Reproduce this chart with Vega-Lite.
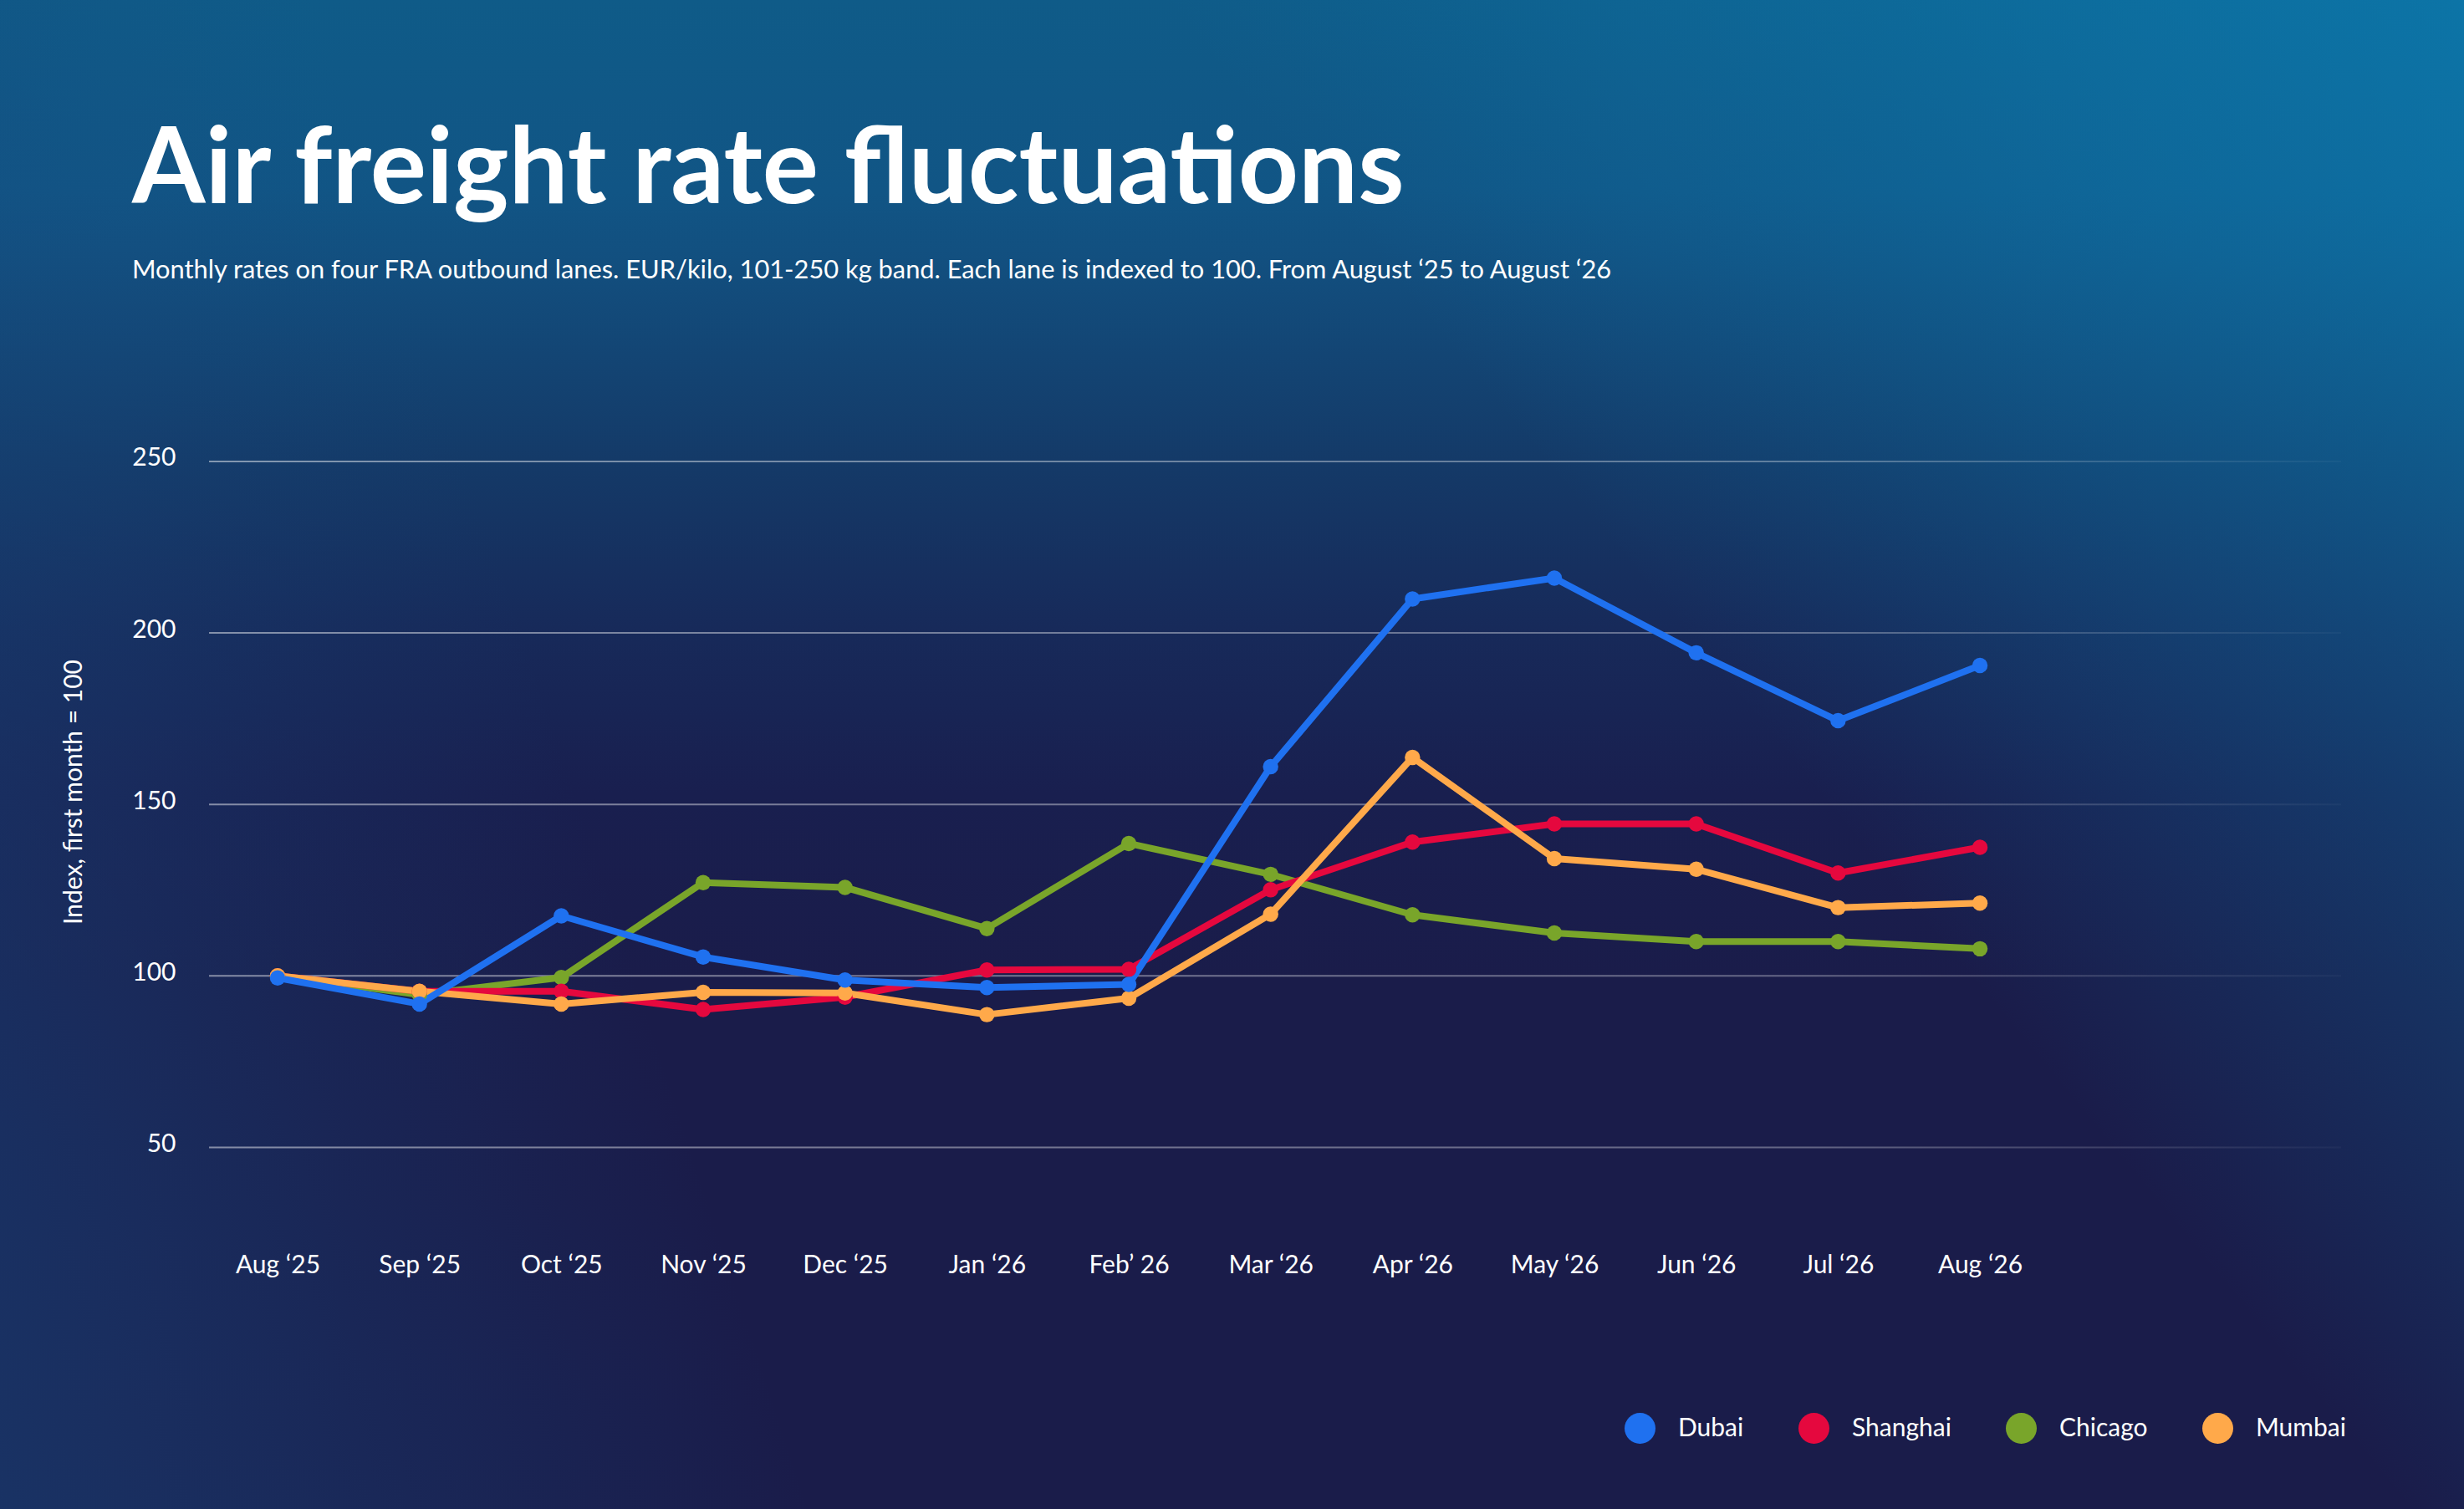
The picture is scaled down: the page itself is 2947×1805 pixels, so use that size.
{
  "$schema": "https://vega.github.io/schema/vega-lite/v6.json",
  "width": 2947,
  "height": 1805,
  "autosize": {"type": "none"},
  "padding": 0,
  "background": "#1a1c4a",
  "view": {
    "stroke": null,
    "fill": {
      "gradient": "linear",
      "x1": 0.5, "y1": 0, "x2": 0.5, "y2": 1,
      "stops": [
        {"offset": 0, "color": "#0f5b88"},
        {"offset": 0.127, "color": "#115585"},
        {"offset": 0.166, "color": "#125080"},
        {"offset": 0.305, "color": "#143a68"},
        {"offset": 0.415, "color": "#172a5a"},
        {"offset": 0.526, "color": "#191f4f"},
        {"offset": 0.65, "color": "#1a1c4a"},
        {"offset": 1, "color": "#1a1c4a"}
      ]
    }
  },
  "title": {
    "text": "Air freight rate fluctuations",
    "subtitle": "Monthly rates on four FRA outbound lanes. EUR/kilo, 101-250 kg band. Each lane is indexed to 100. From August ‘25 to August ‘26",
    "anchor": "start",
    "frame": "group",
    "orient": "top",
    "offset": -354.3,
    "dx": 158,
    "font": "Lato",
    "fontSize": 126,
    "fontWeight": "bold",
    "color": "#ffffff",
    "subtitleFont": "Lato",
    "subtitleFontSize": 30.8,
    "subtitleColor": "#ffffff",
    "subtitlePadding": 40
  },
  "config": {
    "font": "Lato",
    "axis": {
      "domain": false,
      "ticks": false,
      "grid": false,
      "labelPadding": 0,
      "labelFontSize": 30,
      "labelColor": "#ffffff",
      "titleFontSize": 30,
      "titleFontWeight": "normal",
      "titleColor": "#ffffff"
    },
    "axisX": {"offset": -307, "labelFlush": false, "labelOverlap": false},
    "axisY": {
      "offset": -210,
      "labelOffset": -4,
      "titleX": -122,
      "titleY": 947,
      "titleAlign": "center",
      "titleBaseline": "middle",
      "titleAngle": -90
    }
  },
  "datasets": {
    "grid": [
      {"v": 50}, {"v": 100}, {"v": 150}, {"v": 200}, {"v": 250}
    ],
    "rates": [
      {"lane": "Chicago", "i": 0, "v": 100},
      {"lane": "Chicago", "i": 1, "v": 94.5},
      {"lane": "Chicago", "i": 2, "v": 99.5},
      {"lane": "Chicago", "i": 3, "v": 127.2},
      {"lane": "Chicago", "i": 4, "v": 125.8},
      {"lane": "Chicago", "i": 5, "v": 113.8},
      {"lane": "Chicago", "i": 6, "v": 138.6},
      {"lane": "Chicago", "i": 7, "v": 129.6},
      {"lane": "Chicago", "i": 8, "v": 117.8},
      {"lane": "Chicago", "i": 9, "v": 112.5},
      {"lane": "Chicago", "i": 10, "v": 110},
      {"lane": "Chicago", "i": 11, "v": 110},
      {"lane": "Chicago", "i": 12, "v": 107.9},
      {"lane": "Shanghai", "i": 0, "v": 100},
      {"lane": "Shanghai", "i": 1, "v": 95.5},
      {"lane": "Shanghai", "i": 2, "v": 95.5},
      {"lane": "Shanghai", "i": 3, "v": 90.2},
      {"lane": "Shanghai", "i": 4, "v": 93.8},
      {"lane": "Shanghai", "i": 5, "v": 101.7},
      {"lane": "Shanghai", "i": 6, "v": 101.9},
      {"lane": "Shanghai", "i": 7, "v": 125.1},
      {"lane": "Shanghai", "i": 8, "v": 139},
      {"lane": "Shanghai", "i": 9, "v": 144.3},
      {"lane": "Shanghai", "i": 10, "v": 144.3},
      {"lane": "Shanghai", "i": 11, "v": 130},
      {"lane": "Shanghai", "i": 12, "v": 137.5},
      {"lane": "Mumbai", "i": 0, "v": 100},
      {"lane": "Mumbai", "i": 1, "v": 95.5},
      {"lane": "Mumbai", "i": 2, "v": 91.8},
      {"lane": "Mumbai", "i": 3, "v": 95.2},
      {"lane": "Mumbai", "i": 4, "v": 95},
      {"lane": "Mumbai", "i": 5, "v": 88.7},
      {"lane": "Mumbai", "i": 6, "v": 93.5},
      {"lane": "Mumbai", "i": 7, "v": 118},
      {"lane": "Mumbai", "i": 8, "v": 163.7},
      {"lane": "Mumbai", "i": 9, "v": 134.2},
      {"lane": "Mumbai", "i": 10, "v": 131.1},
      {"lane": "Mumbai", "i": 11, "v": 119.9},
      {"lane": "Mumbai", "i": 12, "v": 121.2},
      {"lane": "Dubai", "i": 0, "v": 99.4},
      {"lane": "Dubai", "i": 1, "v": 91.8},
      {"lane": "Dubai", "i": 2, "v": 117.5},
      {"lane": "Dubai", "i": 3, "v": 105.5},
      {"lane": "Dubai", "i": 4, "v": 98.8},
      {"lane": "Dubai", "i": 5, "v": 96.6},
      {"lane": "Dubai", "i": 6, "v": 97.5},
      {"lane": "Dubai", "i": 7, "v": 161},
      {"lane": "Dubai", "i": 8, "v": 209.9},
      {"lane": "Dubai", "i": 9, "v": 216},
      {"lane": "Dubai", "i": 10, "v": 194.2},
      {"lane": "Dubai", "i": 11, "v": 174.4},
      {"lane": "Dubai", "i": 12, "v": 190.5}
    ]
  },
  "layer": [
    {
      "data": {"values": [{}]},
      "mark": {
        "type": "rect",
        "stroke": null,
        "fill": {
          "gradient": "linear",
          "x1": 0.3205, "y1": 0.936, "x2": 0, "y2": 1,
          "stops": [
            {"offset": 0, "color": "rgba(24,74,128,0)"},
            {"offset": 1, "color": "rgba(24,74,128,0.5)"}
          ]
        }
      },
      "encoding": {
        "x": {
          "datum": -2.1,
          "type": "quantitative",
          "scale": {"domain": [-1.9567, 15.4123], "nice": false, "zero": false},
          "axis": {
            "values": [0, 1, 2, 3, 4, 5, 6, 7, 8, 9, 10, 11, 12],
            "labelExpr": "['Aug ‘25','Sep ‘25','Oct ‘25','Nov ‘25','Dec ‘25','Jan ‘26','Feb’ 26','Mar ‘26','Apr ‘26','May ‘26','Jun ‘26','Jul ‘26','Aug ‘26'][datum.value]",
            "title": null,
            "zindex": 1
          }
        },
        "x2": {"datum": 15.55},
        "y": {
          "datum": 388,
          "type": "quantitative",
          "scale": {"domain": [-54.24, 383.33], "nice": false, "zero": false},
          "axis": {"values": [50, 100, 150, 200, 250], "title": "Index, first month = 100", "zindex": 1}
        },
        "y2": {"datum": -58}
      }
    },
    {
      "data": {"values": [{}]},
      "mark": {
        "type": "rect",
        "stroke": null,
        "fill": {
          "gradient": "linear",
          "x1": 0.576, "y1": 0.214, "x2": 1, "y2": 0,
          "stops": [
            {"offset": 0, "color": "rgba(10,134,188,0)"},
            {"offset": 1, "color": "rgba(10,134,188,0.6)"}
          ]
        }
      },
      "encoding": {
        "x": {
          "datum": -2.1,
          "type": "quantitative",
          "scale": {"domain": [-1.9567, 15.4123], "nice": false, "zero": false},
          "axis": {
            "values": [0, 1, 2, 3, 4, 5, 6, 7, 8, 9, 10, 11, 12],
            "labelExpr": "['Aug ‘25','Sep ‘25','Oct ‘25','Nov ‘25','Dec ‘25','Jan ‘26','Feb’ 26','Mar ‘26','Apr ‘26','May ‘26','Jun ‘26','Jul ‘26','Aug ‘26'][datum.value]",
            "title": null,
            "zindex": 1
          }
        },
        "x2": {"datum": 15.55},
        "y": {
          "datum": 388,
          "type": "quantitative",
          "scale": {"domain": [-54.24, 383.33], "nice": false, "zero": false},
          "axis": {"values": [50, 100, 150, 200, 250], "title": "Index, first month = 100", "zindex": 1}
        },
        "y2": {"datum": -58}
      }
    },
    {
      "data": {"name": "grid"},
      "mark": {
        "type": "bar",
        "orient": "horizontal",
        "size": 2,
        "stroke": null,
        "fill": {
          "gradient": "linear",
          "x1": 0, "y1": 0, "x2": 1, "y2": 0,
          "stops": [
            {"offset": 0, "color": "rgba(255,255,255,0.47)"},
            {"offset": 0.75, "color": "rgba(255,255,255,0.32)"},
            {"offset": 1, "color": "rgba(255,255,255,0.03)"}
          ]
        }
      },
      "encoding": {
        "x": {
          "datum": -0.483,
          "type": "quantitative",
          "scale": {"domain": [-1.9567, 15.4123], "nice": false, "zero": false},
          "axis": {
            "values": [0, 1, 2, 3, 4, 5, 6, 7, 8, 9, 10, 11, 12],
            "labelExpr": "['Aug ‘25','Sep ‘25','Oct ‘25','Nov ‘25','Dec ‘25','Jan ‘26','Feb’ 26','Mar ‘26','Apr ‘26','May ‘26','Jun ‘26','Jul ‘26','Aug ‘26'][datum.value]",
            "title": null,
            "zindex": 1
          }
        },
        "x2": {"datum": 14.546},
        "y": {
          "field": "v",
          "type": "quantitative",
          "scale": {"domain": [-54.24, 383.33], "nice": false, "zero": false},
          "axis": {"values": [50, 100, 150, 200, 250], "title": "Index, first month = 100", "zindex": 1}
        }
      }
    },
    {
      "data": {"name": "rates"},
      "mark": {"type": "line", "strokeWidth": 8, "strokeJoin": "round", "strokeCap": "round"},
      "encoding": {
        "x": {
          "field": "i",
          "type": "quantitative",
          "scale": {"domain": [-1.9567, 15.4123], "nice": false, "zero": false},
          "axis": {
            "values": [0, 1, 2, 3, 4, 5, 6, 7, 8, 9, 10, 11, 12],
            "labelExpr": "['Aug ‘25','Sep ‘25','Oct ‘25','Nov ‘25','Dec ‘25','Jan ‘26','Feb’ 26','Mar ‘26','Apr ‘26','May ‘26','Jun ‘26','Jul ‘26','Aug ‘26'][datum.value]",
            "title": null,
            "zindex": 1
          }
        },
        "y": {
          "field": "v",
          "type": "quantitative",
          "scale": {"domain": [-54.24, 383.33], "nice": false, "zero": false},
          "axis": {"values": [50, 100, 150, 200, 250], "title": "Index, first month = 100", "zindex": 1}
        },
        "stroke": {
          "field": "lane",
          "type": "nominal",
          "scale": {
            "domain": ["Chicago", "Shanghai", "Mumbai", "Dubai"],
            "range": ["#79a52a", "#e5083e", "#ffa94a", "#1f71f0"]
          },
          "legend": null
        }
      }
    },
    {
      "data": {"name": "rates"},
      "mark": {"type": "point", "filled": true, "opacity": 1, "size": 340, "shape": "circle"},
      "encoding": {
        "x": {
          "field": "i",
          "type": "quantitative",
          "scale": {"domain": [-1.9567, 15.4123], "nice": false, "zero": false},
          "axis": {
            "values": [0, 1, 2, 3, 4, 5, 6, 7, 8, 9, 10, 11, 12],
            "labelExpr": "['Aug ‘25','Sep ‘25','Oct ‘25','Nov ‘25','Dec ‘25','Jan ‘26','Feb’ 26','Mar ‘26','Apr ‘26','May ‘26','Jun ‘26','Jul ‘26','Aug ‘26'][datum.value]",
            "title": null,
            "zindex": 1
          }
        },
        "y": {
          "field": "v",
          "type": "quantitative",
          "scale": {"domain": [-54.24, 383.33], "nice": false, "zero": false},
          "axis": {"values": [50, 100, 150, 200, 250], "title": "Index, first month = 100", "zindex": 1}
        },
        "color": {
          "field": "lane",
          "type": "nominal",
          "scale": {
            "domain": ["Dubai", "Shanghai", "Chicago", "Mumbai"],
            "range": ["#1f71f0", "#e5083e", "#79a52a", "#ffa94a"]
          },
          "legend": {
            "orient": "none",
            "legendX": 1943,
            "legendY": 1690,
            "direction": "horizontal",
            "title": null,
            "padding": 0,
            "symbolType": "circle",
            "symbolSize": 1369,
            "symbolOpacity": 1,
            "symbolStrokeWidth": 0,
            "labelFontSize": 30,
            "labelColor": "#ffffff",
            "labelOffset": 27,
            "columnPadding": 65
          }
        }
      }
    }
  ]
}
